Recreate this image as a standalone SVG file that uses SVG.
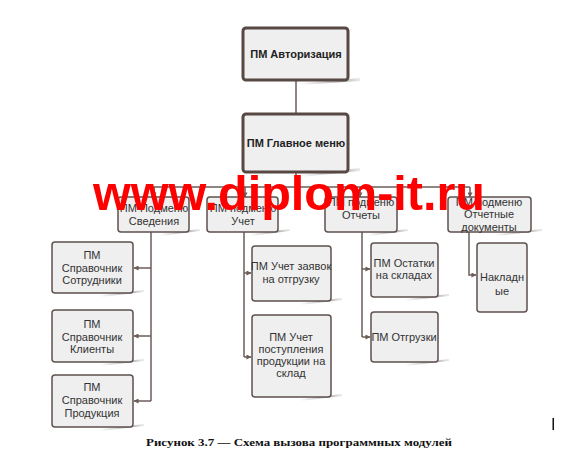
<svg xmlns="http://www.w3.org/2000/svg" width="573" height="460" viewBox="0 0 573 460">
<style>
.top{fill:#efefef;stroke:#574843;stroke-width:3}
.box{fill:#efefef;stroke:#5e524e;stroke-width:1.5}
.sh{fill:url(#shg)}
.tb{font-family:"Liberation Sans",Arial,sans-serif;font-size:11px;font-weight:bold;fill:#222;text-anchor:middle}
.t{font-family:"Liberation Sans",Arial,sans-serif;font-size:11px;fill:#333;text-anchor:middle}
.ln{fill:none;stroke:#6b5d58;stroke-width:1.5}
.cap{font-family:"Liberation Serif","Times New Roman",serif;font-size:10.5px;font-weight:bold;fill:#111;text-anchor:middle}
.wm{font-family:"Liberation Sans",Arial,sans-serif;font-size:48px;font-weight:bold;fill:#ff0000}
</style>
<defs>
<linearGradient id="shg" x1="0" y1="0" x2="1" y2="0">
<stop offset="0" stop-color="#999" stop-opacity="0"/>
<stop offset="0.7" stop-color="#999" stop-opacity="0.8"/>
<stop offset="1" stop-color="#bbb" stop-opacity="0.3"/>
</linearGradient>
<marker id="ar" viewBox="0 0 6 6" refX="5.5" refY="3" markerWidth="5" markerHeight="5" orient="auto" markerUnits="userSpaceOnUse">
<path d="M0,0 L6,3 L0,6 Z" fill="#6b5d58"/>
</marker>
</defs>
<rect width="573" height="460" fill="#fff"/>

<g id="connectors">
<path class="ln" d="M296,81 V113"/>
<path class="ln" d="M296,172 V187 M154,187 H470"/>
<path class="ln" d="M154,187 V197" marker-end="url(#ar)"/>
<path class="ln" d="M245,187 V197" marker-end="url(#ar)"/>
<path class="ln" d="M360,187 V197" marker-end="url(#ar)"/>
<path class="ln" d="M470,187 V197" marker-end="url(#ar)"/>
<path class="ln" d="M151,232 V401"/>
<path class="ln" d="M151,268 H134" marker-end="url(#ar)"/>
<path class="ln" d="M151,336 H134" marker-end="url(#ar)"/>
<path class="ln" d="M151,401 H134" marker-end="url(#ar)"/>
<path class="ln" d="M244,232 V357"/>
<path class="ln" d="M244,273 H251" marker-end="url(#ar)"/>
<path class="ln" d="M244,357 H251" marker-end="url(#ar)"/>
<path class="ln" d="M362,232 V337"/>
<path class="ln" d="M362,269 H370" marker-end="url(#ar)"/>
<path class="ln" d="M362,337 H370" marker-end="url(#ar)"/>
<path class="ln" d="M469,232 V275 H476" marker-end="url(#ar)"/>
</g>

<g id="auth">
<polygon class="sh" points="300,83 360,78 360,81 300,85"/>
<rect class="top" x="243" y="28" width="105" height="52" rx="3"/>
<text class="tb" x="296" y="58">ПМ Авторизация</text>
</g>
<g id="mainmenu">
<polygon class="sh" points="300,175 360,168 360,171 300,177"/>
<rect class="top" x="243" y="114" width="105" height="58" rx="3"/>
<text class="tb" x="296" y="147">ПМ Главное меню</text>
</g>

<g id="svedeniya">
<polygon class="sh" points="160,234 200,229 200,231 160,236"/>
<rect class="box" x="118" y="197" width="71" height="35" rx="3"/>
<text class="t" x="154" y="212">ПМ Подменю</text>
<text class="t" x="154" y="225">Сведения</text>
</g>
<g id="uchet">
<polygon class="sh" points="250,234 290,229 290,231 250,236"/>
<rect class="box" x="207" y="197" width="71" height="35" rx="3"/>
<text class="t" x="243" y="212">ПМ подменю</text>
<text class="t" x="243" y="225">Учет</text>
</g>
<g id="otchety">
<polygon class="sh" points="368,234 408,229 408,231 368,236"/>
<rect class="box" x="325" y="197" width="72" height="35" rx="3"/>
<text class="t" x="361" y="206">ПМ подменю</text>
<text class="t" x="361" y="219">Отчеты</text>
</g>
<g id="otchdocs">
<polygon class="sh" points="495,234 542,229 542,231 495,236"/>
<rect class="box" x="448" y="197" width="83" height="35" rx="3"/>
<text class="t" x="489" y="206">ПМ подменю</text>
<text class="t" x="489" y="218">Отчетные</text>
<text class="t" x="489" y="231">документы</text>
</g>

<g id="sotrudniki">
<polygon class="sh" points="100,295 144,290 144,292 100,297"/>
<rect class="box" x="52" y="242" width="81" height="51" rx="3"/>
<text class="t" x="92" y="259">ПМ</text>
<text class="t" x="92" y="272">Справочник</text>
<text class="t" x="92" y="284">Сотрудники</text>
</g>
<g id="klienty">
<polygon class="sh" points="100,364 144,359 144,361 100,366"/>
<rect class="box" x="52" y="310" width="81" height="52" rx="3"/>
<text class="t" x="92" y="328">ПМ</text>
<text class="t" x="92" y="341">Справочник</text>
<text class="t" x="92" y="353">Клиенты</text>
</g>
<g id="produkciya">
<polygon class="sh" points="100,429 144,424 144,426 100,431"/>
<rect class="box" x="52" y="375" width="81" height="52" rx="3"/>
<text class="t" x="92" y="391">ПМ</text>
<text class="t" x="92" y="404">Справочник</text>
<text class="t" x="92" y="417">Продукция</text>
</g>

<g id="zayavki">
<polygon class="sh" points="300,303 342,298 342,300 300,305"/>
<rect class="box" x="252" y="246" width="79" height="55" rx="3"/>
<text class="t" x="291" y="270">ПМ Учет заявок</text>
<text class="t" x="291" y="283">на отгрузку</text>
</g>
<g id="postupleniya">
<polygon class="sh" points="300,399 342,394 342,396 300,401"/>
<rect class="box" x="252" y="315" width="79" height="82" rx="3"/>
<text class="t" x="291" y="341">ПМ Учет</text>
<text class="t" x="291" y="353">поступления</text>
<text class="t" x="291" y="365">продукции на</text>
<text class="t" x="291" y="377">склад</text>
</g>

<g id="ostatki">
<polygon class="sh" points="405,299 449,294 449,296 405,301"/>
<rect class="box" x="371" y="243" width="67" height="54" rx="3"/>
<text class="t" x="404" y="267">ПМ Остатки</text>
<text class="t" x="404" y="279">на складах</text>
</g>
<g id="otgruzki">
<polygon class="sh" points="405,364 449,359 449,361 405,366"/>
<rect class="box" x="371" y="312" width="67" height="50" rx="3"/>
<text class="t" x="404" y="341">ПМ Отгрузки</text>
</g>

<g id="nakladnye">
<rect class="box" x="477" y="243" width="50" height="69" rx="3"/>
<text class="t" x="502" y="281">Накладн</text>
<text class="t" x="502" y="295">ые</text>
</g>

<text class="wm" x="93" y="210" textLength="392" lengthAdjust="spacingAndGlyphs">www.diplom-it.ru</text>

<text class="cap" x="299" y="446" textLength="306" lengthAdjust="spacingAndGlyphs">Рисунок 3.7 — Схема вызова программных модулей</text>
<rect x="552.5" y="418" width="1.5" height="12" fill="#111"/>
</svg>
